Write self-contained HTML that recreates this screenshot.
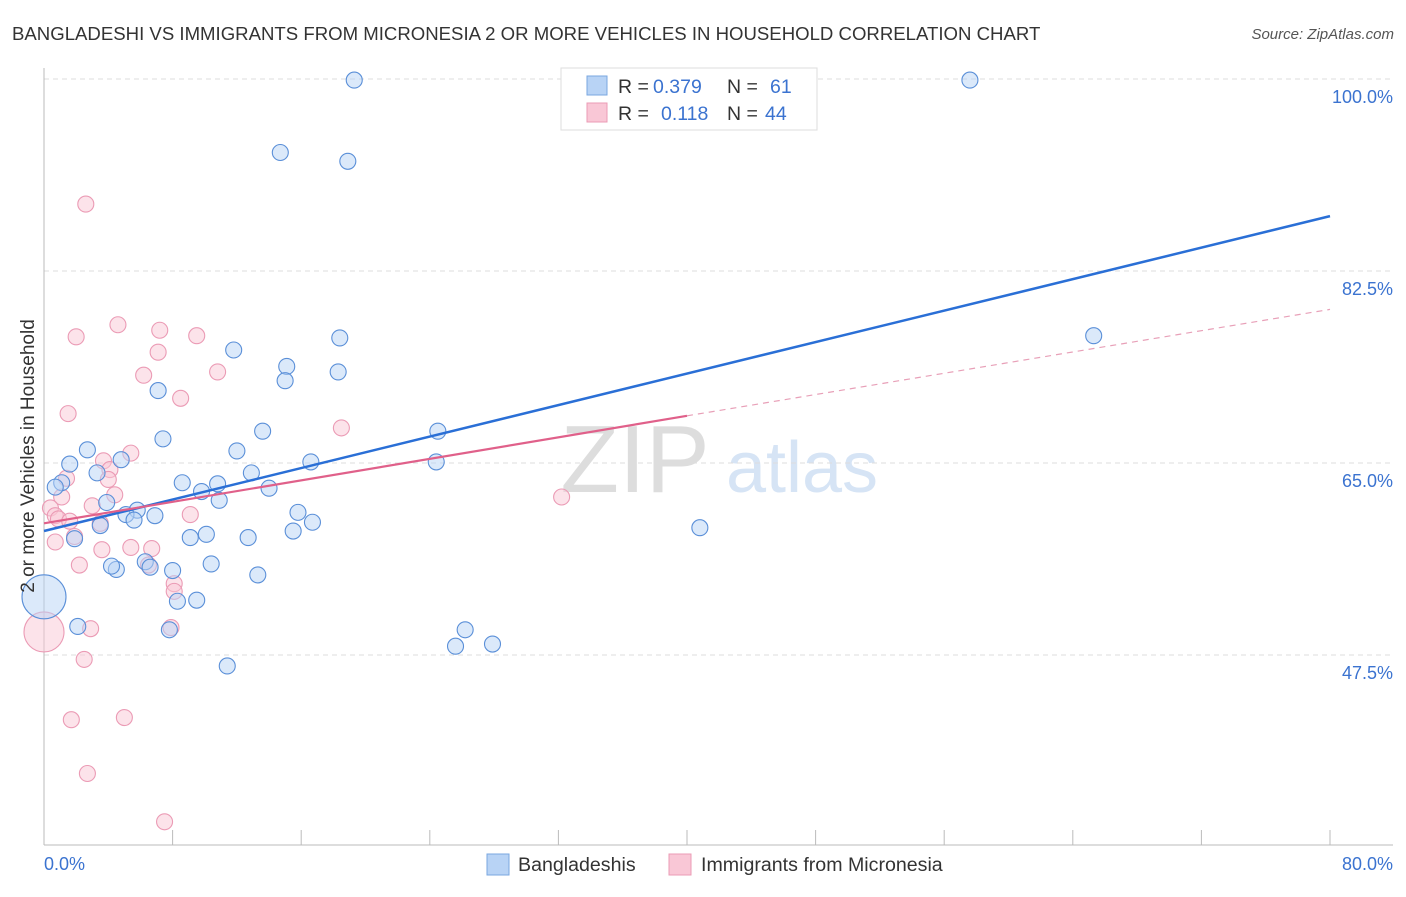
<!DOCTYPE html>
<html><head><meta charset="utf-8"><style>
body{margin:0;background:#fff;font-family:"Liberation Sans",sans-serif}
svg text{font-family:"Liberation Sans",sans-serif}
</style></head><body>
<svg id="c" width="1406" height="892" xmlns="http://www.w3.org/2000/svg">
<text x="12" y="40" font-size="18.6" fill="#333">BANGLADESHI VS IMMIGRANTS FROM MICRONESIA 2 OR MORE VEHICLES IN HOUSEHOLD CORRELATION CHART</text>
<text x="1394" y="39" font-size="15" fill="#555" font-style="italic" text-anchor="end">Source: ZipAtlas.com</text>
<text x="635" y="492" font-size="96" fill="#ddd" font-family="Liberation Serif" text-anchor="middle">ZIP</text>
<text x="802" y="492" font-size="72" fill="#d6e4f5" text-anchor="middle">atlas</text>
<g id="grid"></g><g id="pts"></g><g id="trend"></g>
<text transform="translate(34,456) rotate(-90)" font-size="19" fill="#333" text-anchor="middle">2 or more Vehicles in Household</text>
<g>
<rect x="561" y="68" width="256" height="62" fill="#fff" stroke="#ddd"/>
<rect x="587" y="76" width="20" height="19" fill="#b8d3f5" stroke="#7aa7e0"/>
<rect x="587" y="103" width="20" height="19" fill="#f9c7d6" stroke="#eb9bb5"/>
<text x="618" y="93" font-size="19.5" fill="#333">R = <tspan x="653" fill="#3b73d0">0.379</tspan><tspan x="727">N = </tspan><tspan x="770" fill="#3b73d0">61</tspan></text>
<text x="618" y="120" font-size="19.5" fill="#333">R = <tspan x="661" fill="#3b73d0">0.118</tspan><tspan x="727">N = </tspan><tspan x="765" fill="#3b73d0">44</tspan></text>
</g>
<g>
<rect x="487" y="854" width="22" height="21" fill="#b8d3f5" stroke="#7aa7e0"/>
<text x="518" y="871" font-size="19.6" fill="#333">Bangladeshis</text>
<rect x="669" y="854" width="22" height="21" fill="#f9c7d6" stroke="#eb9bb5"/>
<text x="701" y="871" font-size="19.6" fill="#333">Immigrants from Micronesia</text>
</g>
</svg>
<script>
const yTicks=[100,82.5,65,47.5];
const yTickLabels=["100.0%","82.5%","65.0%","47.5%"];
const xTickLabels=["0.0%","80.0%"];
const blueX=[19.3,57.6,14.7,18.9,65.3,11.8,18.4,15.1,15.0,18.3,7.1,7.4,13.6,24.5,12.0,2.7,4.8,1.6,3.3,16.6,24.4,12.9,8.6,10.8,9.8,14.0,10.9,1.1,0.7,3.9,5.8,5.1,6.9,5.6,15.8,16.7,3.5,40.8,1.9,15.5,10.1,9.1,12.7,10.4,6.3,6.6,4.5,13.3,8.0,8.3,9.5,2.1,7.8,26.2,25.6,27.9,11.4,4.2];
const blueY=[99.9,99.9,93.3,92.5,76.6,75.3,76.4,73.8,72.5,73.3,71.6,67.2,67.9,67.9,66.1,66.2,65.3,64.9,64.1,65.1,65.1,64.1,63.2,63.1,62.4,62.7,61.6,63.2,62.8,61.4,60.7,60.3,60.2,59.8,60.5,59.6,59.3,59.1,58.1,58.8,58.5,58.2,58.2,55.8,56.0,55.5,55.3,54.8,55.2,52.4,52.5,50.1,49.8,49.8,48.3,48.5,46.5,55.6];
const blueBigX=[0],blueBigY=[52.8];
const pinkX=[2.6,4.6,2.0,7.2,9.5,7.1,6.2,10.8,8.5,1.5,18.5,5.4,3.7,4.1,1.4,4.0,4.4,1.1,3.0,9.1,0.4,0.7,0.9,1.6,3.5,1.9,0.7,3.6,5.4,6.7,2.2,6.5,8.1,8.1,7.9,2.9,2.5,1.7,5.0,2.7,7.5,32.2];
const pinkY=[88.6,77.6,76.5,77.1,76.6,75.1,73.0,73.3,70.9,69.5,68.2,65.9,65.2,64.4,63.6,63.5,62.1,61.9,61.1,60.3,60.9,60.2,59.9,59.7,59.5,58.3,57.8,57.1,57.3,57.2,55.7,55.7,54.0,53.3,50.0,49.9,47.1,41.6,41.8,36.7,32.3,61.9];
const pinkBigX=[0],pinkBigY=[49.6];
const blueTrend=[[0,58.8],[80,87.5]];
const pinkTrendSolid=[[0,59.5],[40,69.3]];
const pinkTrendDash=[[40,69.3],[80,79.0]];
const NS="http://www.w3.org/2000/svg";
const X=v=>44+v*1286/80, Y=v=>79+(100-v)*192/17.5;
function mk(t,a,p){const e=document.createElementNS(NS,t);for(const k in a)e.setAttribute(k,a[k]);p.appendChild(e);return e;}
const g=document.getElementById('grid'),P=document.getElementById('pts'),T=document.getElementById('trend');
yTicks.forEach((v,i)=>{const l=mk('line',{x1:44,x2:1393,y1:Y(v),y2:Y(v),stroke:'#ddd','stroke-dasharray':'5,4'},g);


const t=mk('text',{x:1393,y:Y(v)+24,'font-size':18,fill:'#3b73d0','text-anchor':'end'},g);t.textContent=yTickLabels[i];

});
const ax=mk('line',{x1:44,x2:44,y1:68,y2:845,stroke:'#bbb'},g);


const bx=mk('line',{x1:44,x2:1393,y1:845,y2:845,stroke:'#bbb'},g);


for(let i=1;i<=10;i++){const tk=mk('line',{x1:X(i*8),x2:X(i*8),y1:830,y2:845,stroke:'#bbb'},g);

}
[[0,'start'],[80,'end']].forEach((d,i)=>{const t=mk('text',{x:i?1393:44,y:870,'font-size':18,fill:'#3b73d0','text-anchor':d[1]},g);t.textContent=xTickLabels[i];

});
function dots(xs,ys,r,f,s,name){xs.forEach((x,i)=>{const c=mk('circle',{cx:X(x),cy:Y(ys[i]),r:r,fill:f,'fill-opacity':0.5,stroke:s,'stroke-width':1.1},P);

});}
dots(pinkX,pinkY,8,'#f9c7d6','#eb9bb5','micronesia-point');
dots(pinkBigX,pinkBigY,20,'#f9c7d6','#eb9bb5','micronesia-point');
dots(blueX,blueY,8,'#b8d3f5','#5a8fd8','bangladeshi-point');
dots(blueBigX,blueBigY,22,'#b8d3f5','#5a8fd8','bangladeshi-point');
function ln(d,st,w,dash,name){const l=mk('line',{x1:X(d[0][0]),y1:Y(d[0][1]),x2:X(d[1][0]),y2:Y(d[1][1]),stroke:st,'stroke-width':w},T);if(dash)l.setAttribute('stroke-dasharray',dash);

}
ln(blueTrend,'#2a6fd6',2.5,null,'bangladeshi-trend');
ln(pinkTrendSolid,'#e0608a',2.2,null,'micronesia-trend');
ln(pinkTrendDash,'#e8a0b8',1.2,'6,5','micronesia-trend-extension');
</script>
</body></html>
